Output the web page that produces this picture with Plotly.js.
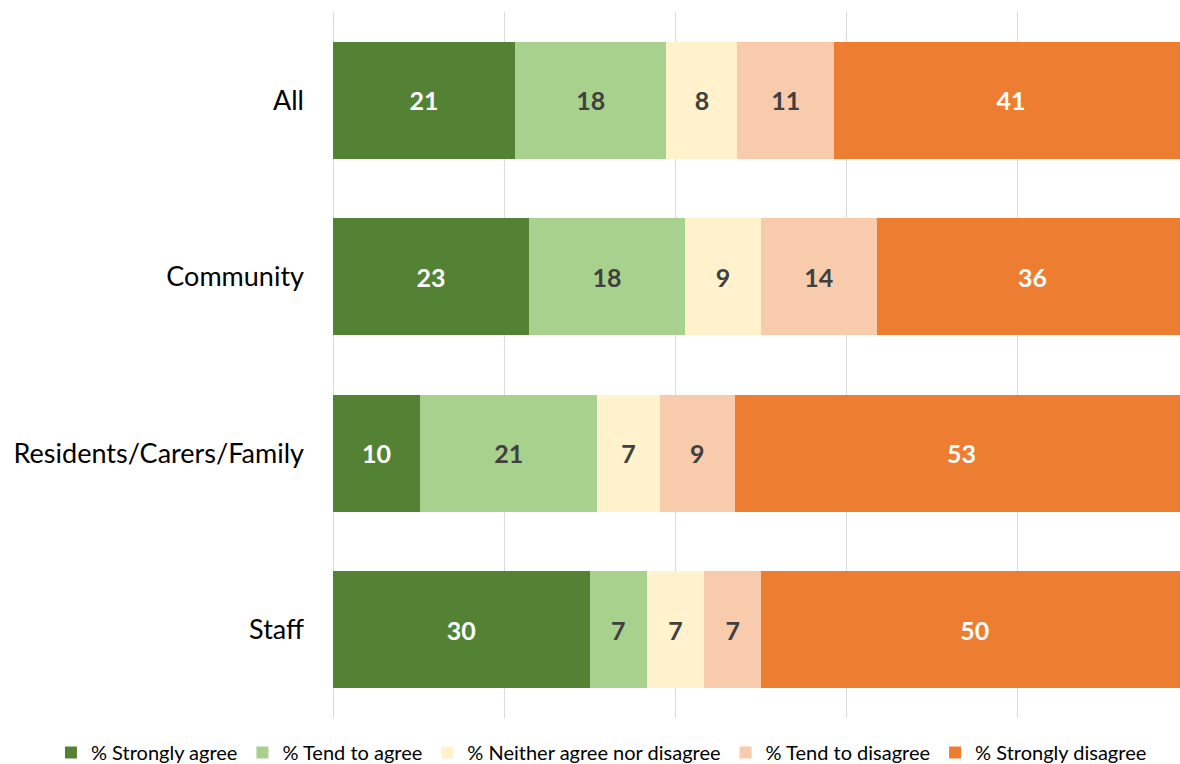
<!DOCTYPE html>
<html>
<head>
<meta charset="utf-8">
<script src="https://cdn.plot.ly/plotly-3.0.1.min.js"></script>
<style>html,body{margin:0;padding:0;background:#fff;overflow:hidden;}#chart{width:1180px;height:772px;}</style>
</head>
<body>
<div id="chart"></div>
<script>
const categories = ["All", "Community", "Residents/Carers/Family", "Staff"];
const seriesNames = ["% Strongly agree", "% Tend to agree", "% Neither agree nor disagree", "% Tend to disagree", "% Strongly disagree"];
const stronglyAgree = [21.3, 22.9, 10.2, 30.0];
const tendToAgree = [17.7, 18.3, 20.7, 6.7];
const neither = [8.3, 8.8, 7.3, 6.7];
const tendToDisagree = [11.3, 13.6, 8.8, 6.7];
const stronglyDisagree = [41.4, 36.4, 53.0, 49.9];

const seriesValues = [stronglyAgree, tendToAgree, neither, tendToDisagree, stronglyDisagree];
const colors = ["#548235", "#A9D18E", "#FFF2CC", "#F8CBAD", "#ED7D31"];
const textColors = ["#FFFFFF", "#404040", "#404040", "#404040", "#FFFFFF"];
const FONT = "Lato, 'Open Sans', sans-serif";

const traces = seriesValues.map((vals, i) => ({
  type: "bar",
  orientation: "h",
  name: seriesNames[i],
  y: categories,
  x: vals,
  marker: {color: colors[i], line: {width: 0}},
  text: vals.map(v => String(Math.round(v))),
  texttemplate: "<b>%{text}</b>",
  textposition: "inside",
  insidetextanchor: "middle",
  textangle: 0,
  insidetextfont: {family: FONT, size: 25, color: textColors[i]},
  hoverinfo: "none"
}));

const layout = {
  width: 1180,
  height: 772,
  barmode: "stack",
  bargap: 0.335,
  margin: {l: 333, r: 0, t: 12, b: 54},
  paper_bgcolor: "#fff",
  plot_bgcolor: "#fff",
  font: {family: FONT, color: "#000"},
  xaxis: {
    range: [0, 99.06],
    dtick: 20,
    tick0: 0,
    showticklabels: false,
    showgrid: true,
    gridcolor: "#D9D9D9",
    gridwidth: 1,
    zeroline: true,
    zerolinecolor: "#D9D9D9",
    zerolinewidth: 1,
    fixedrange: true,
    automargin: false
  },
  yaxis: {
    type: "category",
    autorange: "reversed",
    showgrid: false,
    zeroline: false,
    ticks: "",
    ticklabelstandoff: 28,
    automargin: false,
    tickfont: {family: FONT, size: 27, color: "#000"}
  },
  showlegend: true,
  legend: {
    orientation: "h",
    x: -0.333,
    xref: "paper",
    xanchor: "left",
    y: -0.0496,
    yref: "paper",
    yanchor: "middle",
    font: {family: FONT, size: 20, color: "#000"},
    itemwidth: 30,
    tracegroupgap: 0,
    traceorder: "normal"
  }
};

Plotly.newPlot("chart", traces, layout, {staticPlot: true, displayModeBar: false});
</script>
</body>
</html>
